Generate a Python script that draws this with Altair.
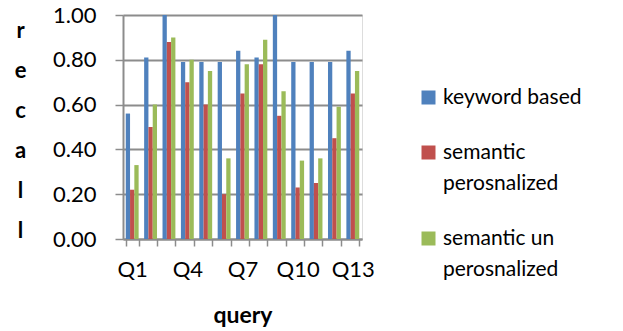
import altair as alt
import pandas as pd

# Recall per query for each retrieval approach
queries = ["Q1", "Q2", "Q3", "Q4", "Q5", "Q6", "Q7", "Q8", "Q9", "Q10", "Q11", "Q12", "Q13"]
series_names = ["keyword based", "semantic perosnalized", "semantic un perosnalized"]
keyword_based = [0.56, 0.81, 1.00, 0.79, 0.79, 0.79, 0.84, 0.81, 1.00, 0.79, 0.79, 0.79, 0.84]
semantic_pers = [0.22, 0.50, 0.88, 0.70, 0.60, 0.20, 0.65, 0.78, 0.55, 0.23, 0.25, 0.45, 0.65]
semantic_unpers = [0.33, 0.60, 0.90, 0.80, 0.75, 0.36, 0.78, 0.89, 0.66, 0.35, 0.36, 0.59, 0.75]
shown_labels = ["Q1", "Q4", "Q7", "Q10", "Q13"]
colors = ["#4F81BD", "#C0504D", "#9BBB59"]

rows = []
for name, vals in zip(series_names, [keyword_based, semantic_pers, semantic_unpers]):
    for q, v in zip(queries, vals):
        rows.append({"query": q, "series": name, "recall": v})
df = pd.DataFrame(rows)

FONT = "Lato"
GRID = "#8c8c8c"

label_list = "[" + ",".join("'%s'" % s for s in shown_labels) + "]"

chart = alt.Chart(df).mark_bar().encode(
    x=alt.X(
        "query:N",
        sort=queries,
        scale=alt.Scale(paddingInner=0.3, paddingOuter=0.15),
        axis=alt.Axis(
            title="query",
            labelAngle=0,
            labelExpr="indexof(%s, datum.value) >= 0 ? datum.value : ''" % label_list,
            labelOverlap=False,
            tickBand="extent",
            tickSize=7,
            tickColor=GRID,
            tickWidth=1.5,
            domainColor=GRID,
            domainWidth=2,
            labelPadding=13,
            labelFontSize=22,
            labelColor="#000000",
            labelFont=FONT,
            titleFont=FONT,
            titleFontSize=23,
            titleFontWeight="bold",
            titleColor="#000000",
            titleBaseline="alphabetic",
            titleY=83,
            grid=False,
        ),
    ),
    xOffset=alt.XOffset("series:N", sort=series_names, scale=alt.Scale(paddingInner=0, paddingOuter=0)),
    y=alt.Y(
        "recall:Q",
        scale=alt.Scale(domain=[0, 1], nice=False),
        axis=alt.Axis(
            title=["r", "e", "c", "a", "l", "l"],
            titleAngle=0,
            titleAlign="center",
            titleBaseline="middle",
            titleX=-103,
            titleY=15,
            titleLineHeight=40,
            titleFont=FONT,
            titleFontSize=22,
            titleFontWeight="bold",
            titleColor="#000000",
            values=[0, 0.2, 0.4, 0.6, 0.8, 1.0],
            format=".2f",
            labelFont=FONT,
            labelFontSize=22,
            labelColor="#000000",
            labelPadding=19,
            tickSize=8,
            tickColor=GRID,
            tickWidth=1.5,
            domainColor=GRID,
            domainWidth=2,
            gridColor=GRID,
            gridWidth=2,
        ),
    ),
    color=alt.Color(
        "series:N",
        sort=series_names,
        scale=alt.Scale(domain=series_names, range=colors),
        legend=alt.Legend(
            title=None,
            orient="none",
            legendX=295,
            legendY=72,
            symbolType="square",
            symbolSize=196,
            symbolStrokeWidth=0,
            labelFont=FONT,
            labelFontSize=21,
            labelColor="#000000",
            labelLimit=300,
            labelExpr="split(replace(datum.label, ' perosnalized', '|perosnalized'), '|')",
            rowPadding=33,
            labelOffset=4,
        ),
    ),
).properties(
    width=239,
    height=224,
    autosize=alt.AutoSizeParams(type="none"),
    padding={"left": 123, "top": 15, "right": 261, "bottom": 92},
).configure_view(stroke=None).configure(
    background="white",
    style={"guide-label": {"lineHeight": 31}},
)

chart.save("out.html", embed_options={"renderer": "svg", "actions": False})
